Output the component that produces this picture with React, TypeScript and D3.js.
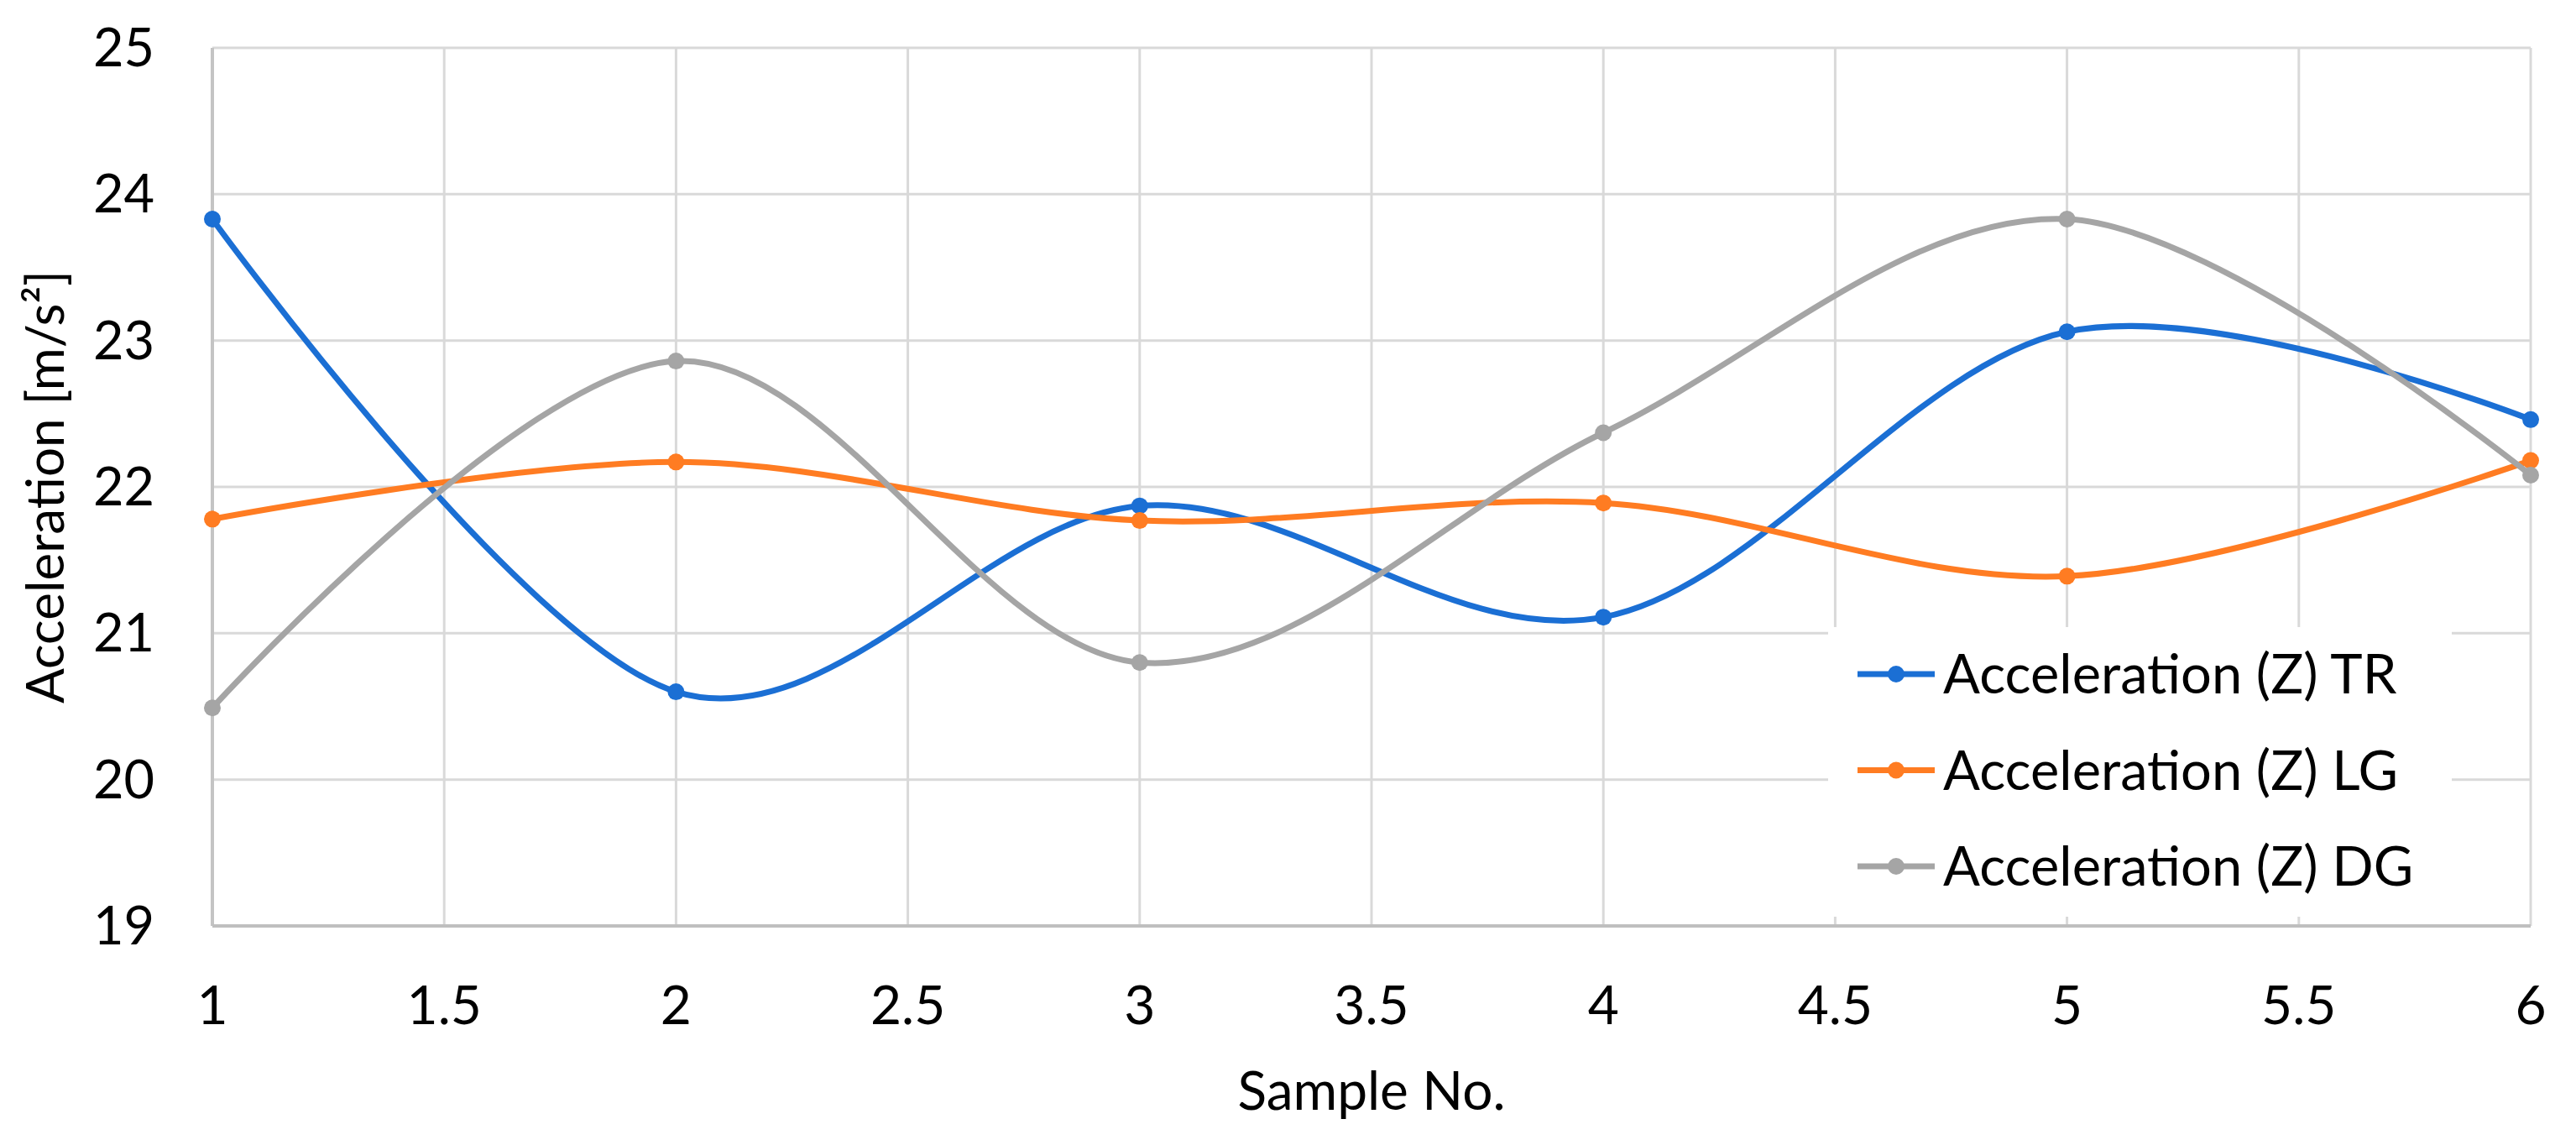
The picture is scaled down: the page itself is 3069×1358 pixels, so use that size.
import * as d3 from 'd3';

const samples = [1, 2, 3, 4, 5, 6];
const accelTR = [23.83, 20.6, 21.87, 21.11, 23.06, 22.46];
const accelLG = [21.78, 22.17, 21.77, 21.89, 21.39, 22.18];
const accelDG = [20.49, 22.86, 20.8, 22.37, 23.83, 22.08];
const seriesNames = ['Acceleration (Z) TR', 'Acceleration (Z) LG', 'Acceleration (Z) DG'];
const xTicks = [1, 1.5, 2, 2.5, 3, 3.5, 4, 4.5, 5, 5.5, 6];
const yTicks = [19, 20, 21, 22, 23, 24, 25];

const width = 3069;
const height = 1358;
const colors = ['#1b6fd4', '#ff7c22', '#a5a5a5'];
const font = 'Lato, "Noto Sans", sans-serif';

export default function App() {
  const x = d3.scaleLinear().domain([1, 6]).range([253, 3015]);
  const y = d3.scaleLinear().domain([19, 25]).range([1103, 57]);

  const line = d3
    .line<number>()
    .x((_, i) => x(samples[i]))
    .y((d) => y(d))
    .curve(d3.curveCardinal.tension(0));

  const series = [accelTR, accelLG, accelDG];
  const legend = { x: 2178, y: 747, w: 743, h: 345, rowH: 114.5 };

  return (
    <svg
      width={width}
      height={height}
      style={{ position: 'absolute', left: 0, top: 0, background: '#fff' }}
      fontFamily={font}
    >
      {/* grid */}
      {yTicks.map((t) => (
        <line key={'gy' + t} x1={x(1)} x2={x(6)} y1={y(t)} y2={y(t)} stroke="#d9d9d9" strokeWidth={3} />
      ))}
      {xTicks.map((t) => (
        <line key={'gx' + t} x1={x(t)} x2={x(t)} y1={y(25)} y2={y(19)} stroke="#d9d9d9" strokeWidth={3} />
      ))}
      {/* legend background covers the grid */}
      <rect x={legend.x} y={legend.y} width={legend.w} height={legend.h} fill="#fff" />
      {/* axes */}
      <line x1={x(1)} x2={x(1)} y1={y(25)} y2={y(19)} stroke="#c4c4c4" strokeWidth={4} />
      <line x1={x(1)} x2={x(6)} y1={y(19)} y2={y(19)} stroke="#bfbfbf" strokeWidth={4} />

      {/* tick labels */}
      {yTicks.map((t) => (
        <text key={'ly' + t} x={184} y={y(t) + 22} textAnchor="end" fontSize={63} fill="#000">
          {t}
        </text>
      ))}
      {xTicks.map((t) => (
        <text key={'lx' + t} x={x(t)} y={1220} textAnchor="middle" fontSize={64} fill="#000">
          {t}
        </text>
      ))}

      {/* axis titles */}
      <text x={(x(1) + x(6)) / 2} y={1322} textAnchor="middle" fontSize={64} fill="#000">
        Sample No.
      </text>
      <text
        transform={`translate(76,${(y(19) + y(25)) / 2}) rotate(-90)`}
        textAnchor="middle"
        fontSize={62}
        fill="#000"
      >
        Acceleration [m/s²]
      </text>

      {/* series */}
      {series.map((s, k) => (
        <g key={'s' + k}>
          <path d={line(s) || ''} fill="none" stroke={colors[k]} strokeWidth={7} strokeLinecap="round" />
          {s.map((v, i) => (
            <circle key={i} cx={x(samples[i])} cy={y(v)} r={10} fill={colors[k]} />
          ))}
        </g>
      ))}

      {/* legend */}
      {seriesNames.map((name, k) => {
        const cy = 803 + k * legend.rowH;
        return (
          <g key={'lg' + k}>
            <line x1={2213} x2={2305} y1={cy} y2={cy} stroke={colors[k]} strokeWidth={7} />
            <circle cx={2259} cy={cy} r={10} fill={colors[k]} />
            <text x={2315} y={cy + 23} fontSize={65} fill="#000">
              {name}
            </text>
          </g>
        );
      })}
    </svg>
  );
}
